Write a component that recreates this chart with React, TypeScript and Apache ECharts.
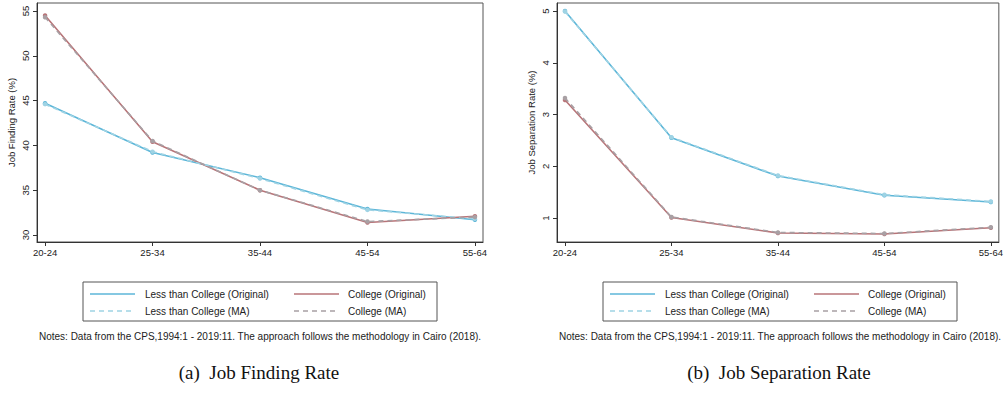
import React, { useEffect, useRef } from "react";
import * as echarts from "echarts";

const ageGroups = ["20-24", "25-34", "35-44", "45-54", "55-64"];

// Job finding rate (%)
const findLessOrig = [44.7, 39.2, 36.4, 32.9, 31.7];
const findCollOrig = [54.5, 40.4, 35.0, 31.4, 32.1];
const findLessMA = [44.6, 39.3, 36.3, 32.8, 31.8];
const findCollMA = [54.3, 40.5, 35.0, 31.5, 32.0];

// Job separation rate (%)
const sepLessOrig = [5.0, 2.55, 1.81, 1.44, 1.31];
const sepCollOrig = [3.28, 1.01, 0.71, 0.69, 0.81];
const sepLessMA = [4.99, 2.56, 1.82, 1.45, 1.32];
const sepCollMA = [3.32, 1.02, 0.72, 0.70, 0.82];

const seriesNames = [
  "Less than College (Original)",
  "College (Original)",
  "Less than College (MA)",
  "College (MA)",
];
const findTicks = [30, 35, 40, 45, 50, 55];
const sepTicks = [1, 2, 3, 4, 5];
const yTitles = ["Job Finding Rate (%)", "Job Separation Rate (%)"];
const captions = ["(a)  Job Finding Rate", "(b)  Job Separation Rate"];
const noteText =
  "Notes: Data from the CPS,1994:1 - 2019:11. The approach follows the methodology in Cairo (2018).";

const COL_LESS = "#5cb6d8";
const COL_COLL = "#b87478";
const COL_LESS_MA = "#9fd3e4";
const COL_COLL_MA = "#a8a0a4";
const FONT = "Liberation Sans, Arial, sans-serif";

export default function App() {
  const ref = useRef<HTMLDivElement>(null);
  useEffect(() => {
    if (!ref.current) return;
    const chart = echarts.init(ref.current, undefined, { renderer: "svg" });
    const idx = ageGroups.map((_, i) => i);
    const toPts = (arr: number[]) => arr.map((v, i) => [idx[i], v]);

    const xAxisCfg = (gridIndex: number) => ({
      type: "value",
      gridIndex,
      min: -0.075,
      max: 4.075,
      axisLine: { show: true, onZero: false, lineStyle: { color: "#333", width: 1 } },
      axisTick: { show: true, length: 4, customValues: idx, lineStyle: { color: "#333" } },
      axisLabel: {
        customValues: idx,
        formatter: (v: number) => ageGroups[Math.round(v)] ?? "",
        color: "#222",
        fontSize: 9.5,
        fontFamily: FONT,
        margin: 5,
      },
      splitLine: { show: false },
    });
    const yAxisCfg = (gridIndex: number, min: number, max: number, ticks: number[], name: string) => ({
      type: "value",
      gridIndex,
      min,
      max,
      name,
      nameLocation: "middle",
      nameGap: 21,
      nameTextStyle: { fontSize: 9.5, fontFamily: FONT, color: "#222" },
      axisLine: { show: true, onZero: false, lineStyle: { color: "#333", width: 1 } },
      axisTick: { show: true, length: 4, customValues: ticks, lineStyle: { color: "#333" } },
      axisLabel: {
        customValues: ticks,
        rotate: 90,
        color: "#222",
        fontSize: 9.5,
        fontFamily: FONT,
        margin: 7,
      },
      splitLine: { show: false },
    });

    const mk = (name: string, data: number[], color: string, dashed: boolean, gi: number, z: number) => ({
      type: "line",
      name,
      xAxisIndex: gi,
      yAxisIndex: gi,
      data: toPts(data),
      symbol: "circle",
      symbolSize: 4.5,
      z,
      lineStyle: { color, width: 1.6, type: dashed ? [5, 4] : "solid" },
      itemStyle: { color },
    });

    const graphics: any[] = [];
    [0, 520].forEach((ox, p) => {
      const bx = 83 + ox;
      graphics.push({
        type: "rect",
        shape: { x: bx, y: 282, width: 354, height: 39 },
        style: { fill: "#fff", stroke: "#555", lineWidth: 1 },
      });
      const cols = [
        { sx: bx + 7, tx: bx + 62 },
        { sx: bx + 211, tx: bx + 265 },
      ];
      const rows = [294, 311];
      const legCols = [COL_LESS, COL_COLL, COL_LESS_MA, COL_COLL_MA];
      seriesNames.forEach((nm, i) => {
        const c = cols[i % 2];
        const y = rows[Math.floor(i / 2)];
        graphics.push({
          type: "line",
          shape: { x1: c.sx, y1: y, x2: c.sx + 45, y2: y },
          style: { stroke: legCols[i], lineWidth: 1.4, lineDash: i >= 2 ? [5, 4] : null },
        });
        graphics.push({
          type: "text",
          x: c.tx,
          y,
          style: { text: nm, font: `10px ${FONT}`, fill: "#222", verticalAlign: "middle" },
        });
      });
      graphics.push({
        type: "text",
        x: 260 + ox,
        y: 336,
        style: { text: noteText, font: `10px ${FONT}`, fill: "#222", align: "center", verticalAlign: "middle" },
      });
      graphics.push({
        type: "text",
        x: 259 + ox,
        y: 372,
        style: { text: captions[p], font: `19px "Liberation Serif", "DejaVu Serif", serif`, fill: "#111", align: "center", verticalAlign: "middle" },
      });
    });

    chart.setOption({
      animation: false,
      backgroundColor: "#fff",
      grid: [
        { left: 37, top: 3, width: 446, height: 239, show: true, borderColor: "#555", borderWidth: 1 },
        { left: 557, top: 3, width: 445, height: 239, show: true, borderColor: "#555", borderWidth: 1 },
      ],
      xAxis: [xAxisCfg(0), xAxisCfg(1)],
      yAxis: [
        yAxisCfg(0, 29.22, 55.89, findTicks, yTitles[0]),
        yAxisCfg(1, 0.536, 5.155, sepTicks, yTitles[1]),
      ],
      series: [
        mk(seriesNames[0], findLessOrig, COL_LESS, false, 0, 3),
        mk(seriesNames[1], findCollOrig, COL_COLL, false, 0, 3),
        mk(seriesNames[2], findLessMA, COL_LESS_MA, true, 0, 4),
        mk(seriesNames[3], findCollMA, COL_COLL_MA, true, 0, 4),
        mk(seriesNames[0], sepLessOrig, COL_LESS, false, 1, 3),
        mk(seriesNames[1], sepCollOrig, COL_COLL, false, 1, 3),
        mk(seriesNames[2], sepLessMA, COL_LESS_MA, true, 1, 4),
        mk(seriesNames[3], sepCollMA, COL_COLL_MA, true, 1, 4),
      ],
      graphic: graphics,
    });
    return () => chart.dispose();
  }, []);
  return (
    <div
      ref={ref}
      style={{ position: "absolute", left: 0, top: 0, width: 1006, height: 395, background: "#fff" }}
    />
  );
}
